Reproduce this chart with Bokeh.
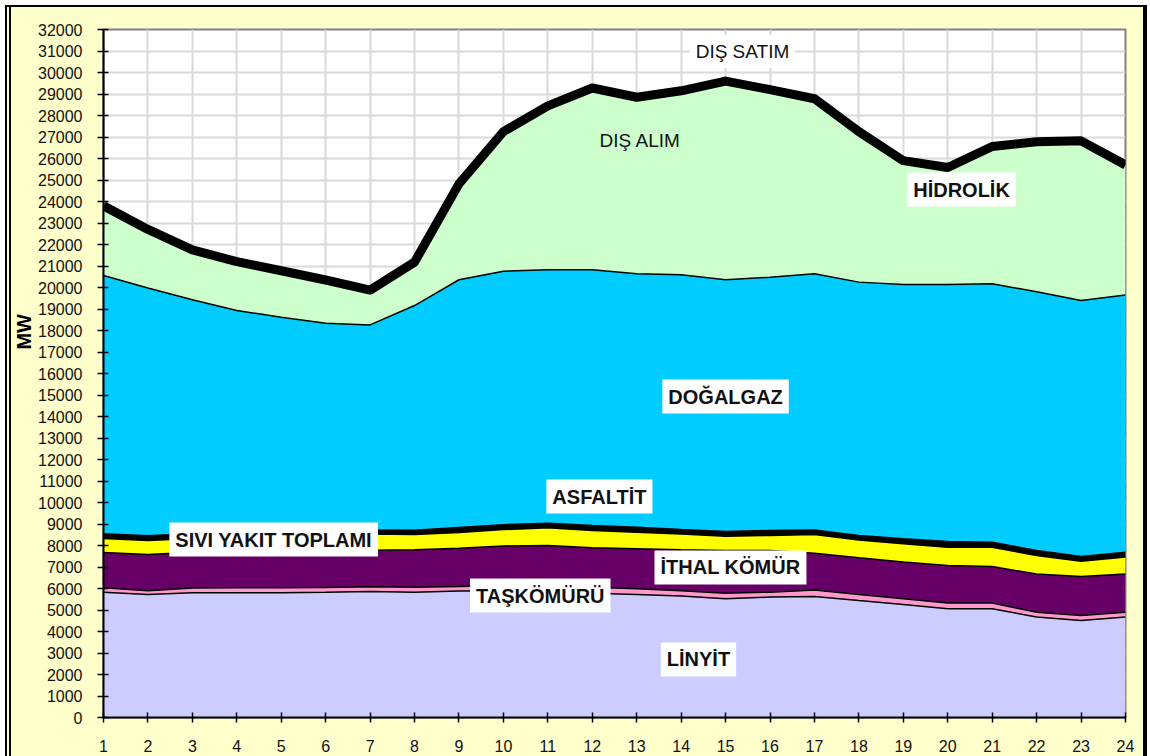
import numpy as np
from bokeh.plotting import figure
from bokeh.models import Range1d, FixedTicker, Label
from bokeh.embed import file_html
from bokeh.resources import INLINE

# ---------------- data (MW per hour) ----------------
hours = list(range(1, 25))
x_tick_labels = [str(h) for h in hours]
y_ticks = list(range(0, 32001, 1000))

linyit      = [5830, 5720, 5800, 5800, 5800, 5820, 5860, 5830, 5880, 5900, 5830, 5780,
               5720, 5650, 5520, 5600, 5630, 5440, 5260, 5060, 5060, 4670, 4510, 4670]
taskomuru   = [200, 180, 220, 230, 230, 230, 220, 230, 210, 240, 300, 280,
               270, 250, 260, 230, 300, 280, 260, 260, 260, 230, 230, 230]
ithal_komur = [1640, 1680, 1670, 1670, 1690, 1700, 1700, 1740, 1780, 1840, 1870, 1830,
               1860, 1900, 1990, 1940, 1710, 1710, 1710, 1750, 1700, 1770, 1820, 1770]
sivi_yakit  = [660, 650, 640, 680, 700, 700, 750, 710, 730, 760, 820, 810,
               770, 730, 660, 700, 870, 830, 850, 850, 900, 860, 710, 790]
asfaltit    = [220, 220, 230, 220, 220, 230, 190, 200, 240, 230, 220, 230,
               230, 210, 220, 230, 210, 210, 230, 270, 230, 240, 220, 230]
dogalgaz    = [12010, 11530, 10870, 10330, 9980, 9660, 9540, 10450, 11520, 11790, 11790, 11900,
               11790, 11850, 11710, 11780, 11920, 11780, 11830, 11950, 12020, 12030, 11910, 11960]
hidrolik    = [3240, 2720, 2320, 2270, 2160, 2010, 1620, 2020, 4460, 6490, 7620, 8450,
               8210, 8560, 9240, 8720, 8140, 7000, 5760, 5440, 6390, 6980, 7420, 6050]

series = [linyit, taskomuru, ithal_komur, sivi_yakit, asfaltit, dogalgaz, hidrolik]
colors = ["#CCCCFF", "#FF99CC", "#660066", "#FFFF00", "#000000", "#00CCFF", "#CCFFCC"]

y_title = "MW"

# annotation texts (x in hours, y in MW)
label_texts = ["DIŞ SATIM", "DIŞ ALIM", "HİDROLİK", "DOĞALGAZ", "ASFALTİT",
               "SIVI YAKIT TOPLAMI", "İTHAL KÖMÜR", "TAŞKÖMÜRÜ", "LİNYİT"]
label_x = [15.38, 13.08, 20.31, 15.00, 12.16, 4.83, 15.11, 10.83, 14.39]
label_y = [30977, 26837, 24558, 14930, 10279, 8279, 6977, 5674, 2698]
label_bold = [False, False, True, True, True, True, True, True, True]
label_box = [True, False, True, True, True, True, True, True, True]

# ---------------- figure ----------------
p = figure(width=1150, height=756,
           x_range=Range1d(1, 24), y_range=Range1d(0, 32000),
           output_backend="svg", toolbar_location=None,
           background_fill_color="white", border_fill_alpha=0,
           min_border_left=103, min_border_right=25,
           min_border_top=29, min_border_bottom=39)

p.styles = {
    "background-color": "#FFFFCC",
    "box-shadow": ("inset 5px 0 0 0 #ffffff, inset -3px 0 0 0 #ffffff, inset 0 5px 0 0 #ffffff, "
                   "inset 7px 0 0 0 #000000, inset -7px 0 0 0 #000000, inset 0 7px 0 0 #000000, "
                   "inset 9px 0 0 0 #FFFFCC, inset 11px 0 0 0 #000000"),
}

p.outline_line_color = "#808080"
p.outline_line_width = 2

# grids
p.xgrid.grid_line_color = "#D9D9D9"
p.ygrid.grid_line_color = "#D9D9D9"
p.xgrid.grid_line_width = 2
p.ygrid.grid_line_width = 2

# axes
p.xaxis.ticker = FixedTicker(ticks=hours)
p.xaxis.major_label_overrides = {h: s for h, s in zip(hours, x_tick_labels)}
p.yaxis.ticker = FixedTicker(ticks=y_ticks)
for ax in (p.xaxis[0], p.yaxis[0]):
    ax.axis_line_color = "black"
    ax.axis_line_width = 2
    ax.major_tick_line_color = "black"
    ax.major_tick_line_width = 1.5
    ax.minor_tick_line_color = None
    ax.major_label_text_font = "Liberation Sans"
    ax.major_label_text_font_size = "16px"
    ax.major_label_text_color = "#111111"
p.xaxis.major_tick_in = 5
p.xaxis.major_tick_out = 5
p.xaxis.major_label_standoff = 17
p.yaxis.major_tick_in = 5
p.yaxis.major_tick_out = 6
p.yaxis.major_label_standoff = 15

# y-axis title, lifted above the centre as in the original (leading no-break spaces)
p.yaxis.axis_label = "\u00a0" * 15 + y_title
p.yaxis.axis_label_text_font = "Liberation Sans"
p.yaxis.axis_label_text_font_size = "20px"
p.yaxis.axis_label_text_font_style = "bold"
p.yaxis.axis_label_text_color = "black"
p.yaxis.axis_label_standoff = 0

# stacked areas
x = np.array(hours, dtype=float)
cum = np.zeros(len(hours))
tops = []
for vals, col in zip(series, colors):
    lower = cum.copy()
    cum = cum + np.array(vals, dtype=float)
    p.varea(x=x, y1=lower, y2=cum.copy(), fill_color=col)
    tops.append(cum.copy())

for t in tops[:-1]:
    p.line(x=x, y=t, line_color="black", line_width=1.5)
p.line(x=x, y=tops[-1], line_color="black", line_width=9, line_join="round")

# labels
for txt, lx, ly, bold, box in zip(label_texts, label_x, label_y, label_bold, label_box):
    kw = dict(x=lx, y=ly, text=txt, text_align="center", text_baseline="middle",
              text_font="Liberation Sans", text_color="#111111",
              text_font_size="20px" if bold else "19px",
              text_font_style="bold" if bold else "normal")
    if box:
        kw.update(background_fill_color="white", padding=6)
    p.add_layout(Label(**kw))

open("out.html", "w").write(file_html(p, INLINE))
